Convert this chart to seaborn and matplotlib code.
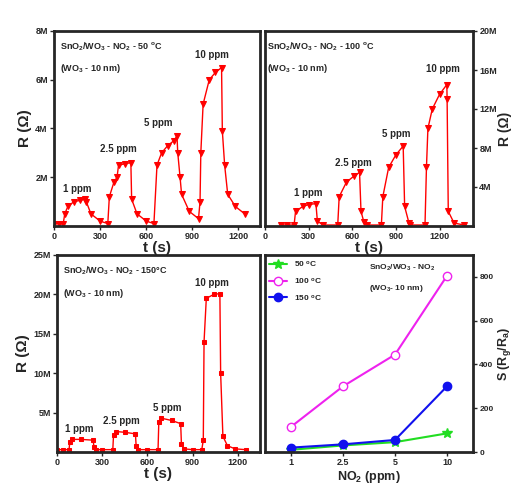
import matplotlib
matplotlib.use("Agg")
import matplotlib.pyplot as plt
import seaborn as sns
import pandas as pd
from matplotlib.ticker import FuncFormatter

sns.set_theme(style="ticks")
plt.rcParams['font.family'] = ['Liberation Sans', 'DejaVu Sans']
plt.rcParams['font.weight'] = 'bold'
plt.rcParams['mathtext.fontset'] = 'custom'
plt.rcParams['mathtext.rm'] = 'Liberation Sans:bold'
plt.rcParams['mathtext.bf'] = 'Liberation Sans:bold'
plt.rcParams['mathtext.default'] = 'bf'

# ---- data ----
t50 = [0, 30, 60, 70, 90, 130, 170, 200, 210, 240, 300, 350, 360, 390, 410, 420, 460, 500, 505, 540, 600, 650,
       670, 700, 740, 780, 800, 805, 820, 830, 880, 940, 950, 955, 970, 1010, 1050, 1090, 1095, 1110, 1130, 1180, 1240]
r50 = [0.1, 0.1, 0.1, 0.5, 0.8, 1.0, 1.05, 1.1, 1.0, 0.5, 0.2, 0.1, 1.2, 1.8, 2.0, 2.5, 2.55, 2.6, 1.1, 0.5, 0.2, 0.1,
       2.5, 3.0, 3.3, 3.5, 3.7, 3.0, 2.0, 1.3, 0.6, 0.3, 1.0, 3.0, 5.0, 6.0, 6.3, 6.5, 3.9, 2.5, 1.3, 0.8, 0.5]

t100 = [110, 150, 200, 210, 260, 300, 350, 360, 400, 500, 510, 560, 610, 650, 660, 680, 700, 800, 810, 850, 900, 950,
        960, 990, 1000, 1100, 1110, 1120, 1150, 1200, 1250, 1252, 1260, 1300, 1370]
r100 = [0.1, 0.1, 0.1, 1.5, 2.0, 2.2, 2.3, 0.5, 0.1, 0.1, 3.0, 4.5, 5.1, 5.5, 1.5, 0.4, 0.1, 0.1, 3.0, 6.0, 7.3, 8.2,
        2.0, 0.3, 0.1, 0.1, 6.0, 10.0, 12.0, 13.5, 14.5, 13.0, 1.5, 0.3, 0.1]

t150 = [0, 40, 80, 85, 100, 160, 240, 245, 260, 300, 370, 375, 390, 450, 520, 525, 540, 600, 670, 675, 690, 760, 820,
        825, 840, 900, 960, 970, 975, 990, 1040, 1080, 1085, 1100, 1130, 1180, 1250]
r150 = [0.3, 0.3, 0.3, 1.3, 1.6, 1.6, 1.5, 0.6, 0.3, 0.3, 0.3, 2.2, 2.6, 2.5, 2.3, 0.7, 0.3, 0.3, 0.3, 3.8, 4.3, 4.0,
        3.6, 1.0, 0.4, 0.3, 0.3, 1.5, 14.0, 19.5, 20.0, 20.1, 10.0, 2.0, 0.8, 0.4, 0.3]

conc = ['1', '2.5', '5', '10']
s50 = [10, 30, 45, 85]
s100 = [115, 300, 445, 805]
s150 = [20, 35, 55, 300]

fig = plt.figure(figsize=(5.16, 4.98), dpi=100)
W, H = 516, 498
def mk(l, t, r, b):
    return fig.add_axes([l / W, 1 - b / H, (r - l) / W, (b - t) / H])

ax1 = mk(54, 31, 260, 226)
ax2 = mk(265, 31, 473, 226)
ax3 = mk(57, 255, 260, 452)
ax4 = mk(265, 255, 473, 452)

mfmt = FuncFormatter(lambda v, p: '' if v == 0 else f'{int(v)}M')
for ax in (ax1, ax2, ax3, ax4):
    for s in ax.spines.values():
        s.set_linewidth(2)
    ax.tick_params(labelsize=6.5, width=1, length=3, direction='out', pad=1.5)

def resp(ax, t, r, marker, ms, xl, yl, yt):
    df = pd.DataFrame({'t': t, 'R': r})
    sns.lineplot(data=df, x='t', y='R', ax=ax, color='red', lw=1, marker=marker, ms=ms,
                 mec='red', mfc='red', sort=False)
    ax.set_xlim(*xl)
    ax.set_ylim(*yl)
    ax.set_yticks(yt)
    ax.yaxis.set_major_formatter(mfmt)
    ax.set_xticks([0, 300, 600, 900, 1200])
    ax.set_xlabel('t (s)', fontsize=11, fontweight='bold', labelpad=0)

resp(ax1, t50, r50, 'v', 4, (0, 1340), (0, 8), [2, 4, 6, 8])
ax1.set_ylabel('R (Ω)', fontsize=11, fontweight='bold', labelpad=2)
resp(ax2, t100, r100, 'v', 4, (100, 1430), (0, 20), [4, 8, 12, 16, 20])
ax2.yaxis.tick_right(); ax2.yaxis.set_label_position('right')
ax2.set_ylabel('R (Ω)', fontsize=10, fontweight='bold', labelpad=1)
resp(ax3, t150, r150, 's', 3, (0, 1346), (0, 25), [5, 10, 15, 20, 25])
ax3.set_ylabel('R (Ω)', fontsize=11, fontweight='bold', labelpad=2)

fs = 6.5
ax1.text(0.03, 0.95, 'SnO$_2$/WO$_3$ - NO$_2$ - 50 $^o$C', transform=ax1.transAxes, fontsize=fs, va='top')
ax1.text(0.03, 0.84, '(WO$_3$ - 10 nm)', transform=ax1.transAxes, fontsize=fs, va='top')
ax2.text(0.01, 0.95, 'SnO$_2$/WO$_3$ - NO$_2$ - 100 $^o$C', transform=ax2.transAxes, fontsize=fs, va='top')
ax2.text(0.01, 0.84, '(WO$_3$ - 10 nm)', transform=ax2.transAxes, fontsize=fs, va='top')
ax3.text(0.03, 0.95, 'SnO$_2$/WO$_3$ - NO$_2$ - 150°C', transform=ax3.transAxes, fontsize=fs, va='top')
ax3.text(0.03, 0.84, '(WO$_3$ - 10 nm)', transform=ax3.transAxes, fontsize=fs, va='top')

for ax, lbls in ((ax1, [(150, 1.3, '1 ppm'), (420, 2.95, '2.5 ppm'), (680, 4.0, '5 ppm'), (1030, 6.8, '10 ppm')]),
                 (ax2, [(300, 2.9, '1 ppm'), (610, 6.0, '2.5 ppm'), (900, 8.9, '5 ppm'), (1220, 15.6, '10 ppm')]),
                 (ax3, [(150, 2.3, '1 ppm'), (430, 3.3, '2.5 ppm'), (730, 4.9, '5 ppm'), (1030, 20.8, '10 ppm')])):
    for x, y, s in lbls:
        ax.text(x, y, s, fontsize=7, ha='center', va='bottom')

x = list(range(4))
ax4.plot(x, s50, color='#22dd22', lw=1.5, marker='*', ms=7, label='50 $^o$C')
ax4.plot(x, s100, color='#ee22ee', lw=1.5, marker='o', ms=6, mfc='white', label='100 $^o$C')
ax4.plot(x, s150, color='#1111ee', lw=1.5, marker='o', ms=6, label='150 $^o$C')
ax4.set_xticks(x, conc)
ax4.set_xlim(-0.5, 3.5)
ax4.set_ylim(0, 900)
ax4.set_yticks([0, 200, 400, 600, 800])
ax4.yaxis.tick_right(); ax4.yaxis.set_label_position('right')
ax4.tick_params(axis='y', labelsize=6)
ax4.set_ylabel('S (R$_g$/R$_a$)', fontsize=9, fontweight='bold', labelpad=2)
ax4.set_xlabel('NO$_2$ (ppm)', fontsize=9, fontweight='bold', labelpad=1)
ax4.legend(loc='upper left', fontsize=6, frameon=False, handlelength=2.2, borderaxespad=0.1, labelspacing=0.8)
ax4.text(0.5, 0.96, 'SnO$_2$/WO$_3$ - NO$_2$', transform=ax4.transAxes, fontsize=6, va='top')
ax4.text(0.5, 0.86, '(WO$_3$- 10 nm)', transform=ax4.transAxes, fontsize=6, va='top')

fig.savefig('out.png', dpi=100)
